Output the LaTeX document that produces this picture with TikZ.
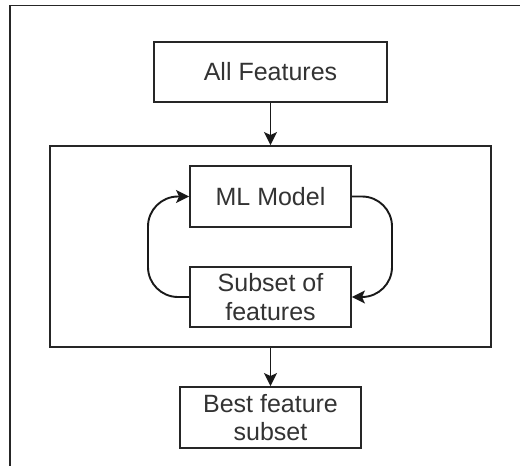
\documentclass[tikz,border=0pt]{standalone}
\usepackage{fontspec}
\setmainfont{Liberation Sans}
\usetikzlibrary{arrows.meta}
\begin{document}
\begin{tikzpicture}[x=1pt,y=-1pt,
  box/.style={draw=black!85, line width=1.9pt, fill=white, inner sep=0pt,
    align=center, text=black!80, font=\fontsize{25}{28.5}\selectfont},
  conn/.style={line width=1.9pt, draw=black!90, -{Stealth[length=13pt,width=13pt,inset=3pt]}}]
\useasboundingbox (0,0) rectangle (520,466);
\coordinate (ftl) at (10,5.5);
\coordinate (ftr) at (520,5.5);
\coordinate (fbl) at (10,466);
\draw[line width=1.9pt, black!85] (ftr) -- (ftl) -- (fbl);
\node[box, minimum width=233pt, minimum height=60pt] (allf) at (270.5,72) {All Features};
\node[box, minimum width=441pt, minimum height=201pt] (big) at (270.5,246.5) {};
\node[box, minimum width=161pt, minimum height=61pt] (ml) at (270.5,196.5) {ML Model};
\node[box, minimum width=161pt, minimum height=60pt] (sub) at (270.5,297) {Subset of\\features};
\node[box, minimum width=181pt, minimum height=61pt] (best) at (270.5,417.5) {Best feature\\subset};
\draw[conn] (allf.south) -- (big.north);
\draw[conn] (big.south) -- (best.north);
\draw[conn, rounded corners=30pt] (sub.west) -- (148,297) -- (148,196.5) -- (ml.west);
\draw[conn, rounded corners=30pt] (ml.east) -- (392,196.5) -- (392,297) -- (sub.east);
\end{tikzpicture}
\end{document}
